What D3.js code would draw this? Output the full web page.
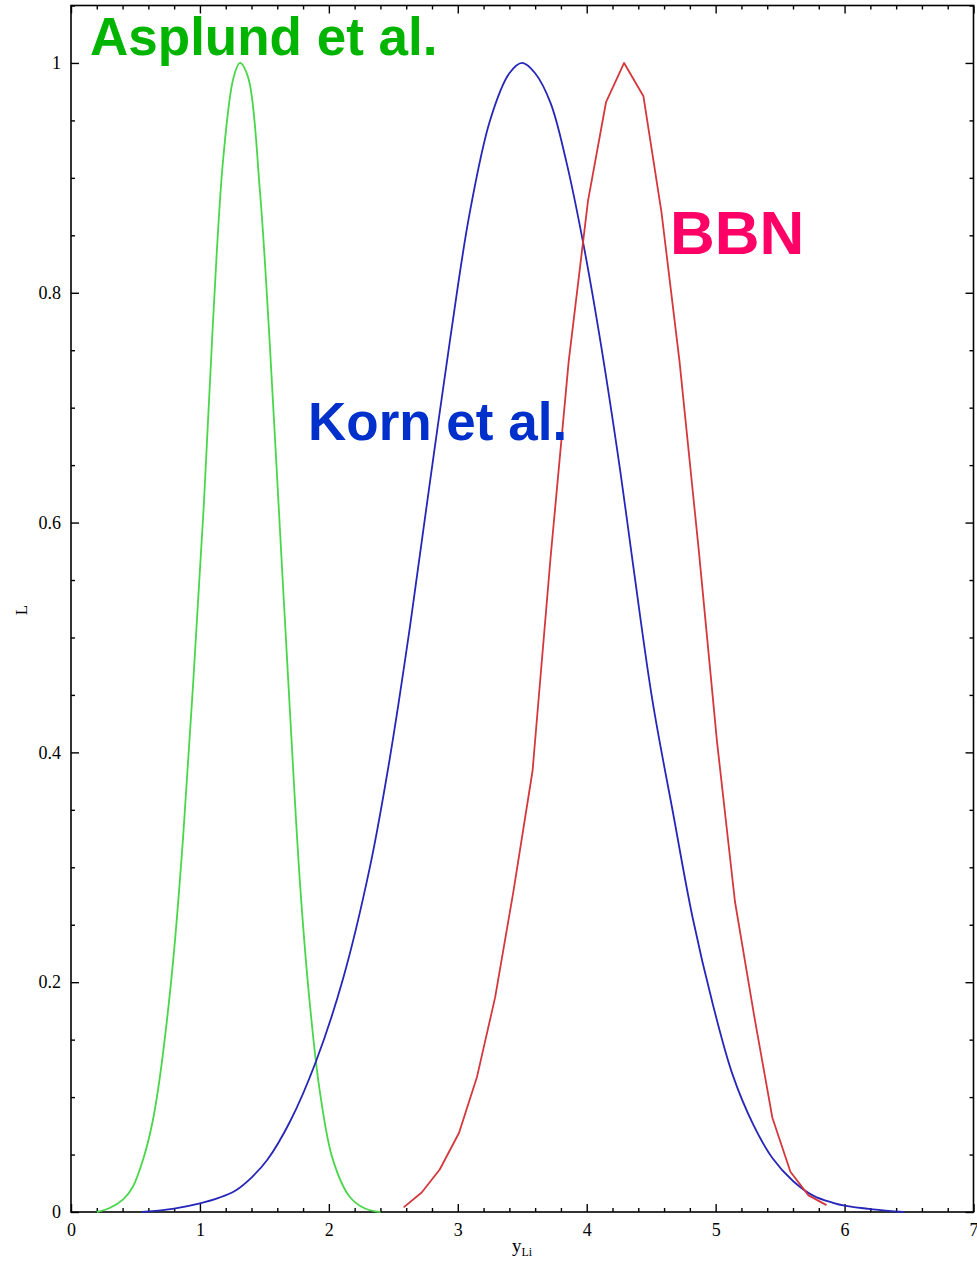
<!DOCTYPE html>
<html>
<head>
<meta charset="utf-8">
<script src="https://cdn.jsdelivr.net/npm/d3@7"></script>
<style>
  html, body { margin: 0; padding: 0; background: #fff; }
  svg { display: block; }
</style>
</head>
<body>
<svg id="chart" width="977" height="1264"></svg>
<script>
// Likelihood curves for the lithium abundance parameter y_Li

const asplundX = [0.20, 0.30, 0.405, 0.48, 0.56, 0.63, 0.69, 0.79, 0.87, 0.95, 1.03, 1.10, 1.18, 1.26, 1.31,
                  1.375, 1.465, 1.54, 1.62, 1.70, 1.775, 1.85, 1.93, 2.03, 2.16, 2.28, 2.40];
const asplundL = [0.0, 0.0035, 0.011, 0.022, 0.046, 0.077, 0.118, 0.216, 0.327, 0.465, 0.615, 0.772, 0.916, 0.987, 1.0,
                  0.987, 0.889, 0.759, 0.595, 0.432, 0.288, 0.184, 0.105, 0.046, 0.0135, 0.003, 0.0];

const kornX = [0.55, 0.80, 1.00, 1.15, 1.28, 1.40, 1.52, 1.70, 1.90, 2.11, 2.32, 2.47, 2.63, 2.78, 2.94, 3.09,
               3.25, 3.40, 3.50, 3.60, 3.72, 3.84, 3.97, 4.10, 4.26, 4.36, 4.51, 4.67, 4.82, 4.98, 5.13,
               5.29, 5.44, 5.60, 5.76, 5.91, 6.00, 6.22, 6.46];
const kornL = [0.0, 0.003, 0.0075, 0.0125, 0.019, 0.030, 0.045, 0.079, 0.131, 0.203, 0.301, 0.393, 0.510, 0.632,
               0.759, 0.868, 0.950, 0.991, 1.0, 0.991, 0.965, 0.915, 0.845, 0.762, 0.645, 0.563, 0.445, 0.347,
               0.257, 0.180, 0.120, 0.0765, 0.047, 0.027, 0.014, 0.008, 0.0055, 0.0023, 0.0];

const bbnX = [2.58, 2.72, 2.86, 3.01, 3.15, 3.29, 3.43, 3.58, 3.72, 3.86, 4.01, 4.15, 4.29, 4.44,
              4.58, 4.72, 4.87, 5.01, 5.15, 5.30, 5.44, 5.58, 5.72, 5.86];
const bbnL = [0.004, 0.017, 0.037, 0.069, 0.118, 0.187, 0.278, 0.384, 0.57, 0.74, 0.88, 0.966, 1.0, 0.971,
              0.87, 0.74, 0.575, 0.41, 0.27, 0.17, 0.082, 0.035, 0.0145, 0.006];

const xTickValues = [0, 1, 2, 3, 4, 5, 6, 7];
const yTickValues = [0, 0.2, 0.4, 0.6, 0.8, 1];
const yTickLabels = ["0", "0.2", "0.4", "0.6", "0.8", "1"];

const svg = d3.select("#chart");
const plotLeft = 71, plotRight = 973.5, plotTop = 5.5, plotBottom = 1212;

const x = d3.scaleLinear().domain([0, 7]).range([plotLeft, plotRight]);
const y = d3.scaleLinear().domain([0, 1.05]).range([plotBottom, plotTop]);

const tickFont = "'Liberation Serif', 'Times New Roman', serif";

// minor tick positions
const xMinor = d3.range(0, 7.0001, 0.2).filter(v => Math.abs(v - Math.round(v)) > 1e-6);
const yMinor = d3.range(0, 1.0501, 0.05).filter(v => Math.abs(v * 5 - Math.round(v * 5)) > 1e-6);

function styleAxis(g) {
  g.select(".domain").remove();
  g.selectAll(".tick line").attr("stroke", "#000").attr("stroke-width", 1.4);
  g.selectAll(".tick text")
    .attr("fill", "#000")
    .style("font-family", tickFont)
    .style("font-size", "18px");
}

// bottom
svg.append("g").attr("transform", `translate(0,${plotBottom})`)
  .call(d3.axisBottom(x).tickValues(xTickValues).tickFormat(d3.format("d"))
        .tickSizeInner(-8).tickSizeOuter(0).tickPadding(11))
  .call(styleAxis);
svg.append("g").attr("transform", `translate(0,${plotBottom})`)
  .call(d3.axisBottom(x).tickValues(xMinor).tickFormat("").tickSizeInner(-4).tickSizeOuter(0))
  .call(styleAxis);
// top
svg.append("g").attr("transform", `translate(0,${plotTop})`)
  .call(d3.axisTop(x).tickValues(xTickValues).tickFormat("").tickSizeInner(-8).tickSizeOuter(0))
  .call(styleAxis);
svg.append("g").attr("transform", `translate(0,${plotTop})`)
  .call(d3.axisTop(x).tickValues(xMinor).tickFormat("").tickSizeInner(-4).tickSizeOuter(0))
  .call(styleAxis);
// left
svg.append("g").attr("transform", `translate(${plotLeft},0)`)
  .call(d3.axisLeft(y).tickValues(yTickValues).tickFormat((d, i) => yTickLabels[i])
        .tickSizeInner(-8).tickSizeOuter(0).tickPadding(10))
  .call(styleAxis);
svg.append("g").attr("transform", `translate(${plotLeft},0)`)
  .call(d3.axisLeft(y).tickValues(yMinor).tickFormat("").tickSizeInner(-4).tickSizeOuter(0))
  .call(styleAxis);
// right
svg.append("g").attr("transform", `translate(${plotRight},0)`)
  .call(d3.axisRight(y).tickValues(yTickValues).tickFormat("").tickSizeInner(-8).tickSizeOuter(0))
  .call(styleAxis);
svg.append("g").attr("transform", `translate(${plotRight},0)`)
  .call(d3.axisRight(y).tickValues(yMinor).tickFormat("").tickSizeInner(-4).tickSizeOuter(0))
  .call(styleAxis);

// frame
svg.append("rect")
  .attr("x", plotLeft).attr("y", plotTop)
  .attr("width", plotRight - plotLeft).attr("height", plotBottom - plotTop)
  .attr("fill", "none").attr("stroke", "#000").attr("stroke-width", 1.6);

// curves
const smooth = d3.line().x(d => x(d[0])).y(d => y(Math.max(0, d[1])))
  .curve(d3.curveCatmullRom.alpha(0.5));
const straight = d3.line().x(d => x(d[0])).y(d => y(d[1]));

const series = [
  { xs: asplundX, ls: asplundL, color: "#4ad64a", gen: smooth },
  { xs: kornX, ls: kornL, color: "#2626b8", gen: smooth },
  { xs: bbnX, ls: bbnL, color: "#d4383c", gen: straight }
];
series.forEach(s => {
  svg.append("path")
    .datum(d3.zip(s.xs, s.ls))
    .attr("d", s.gen)
    .attr("fill", "none")
    .attr("stroke", s.color)
    .attr("stroke-width", 1.8)
    .attr("stroke-linejoin", "round");
});

// axis titles
svg.append("text")
  .attr("transform", "translate(21,610) rotate(-90)")
  .attr("text-anchor", "middle")
  .attr("dy", "0.35em")
  .style("font-family", tickFont)
  .style("font-size", "17px")
  .text("L");

const xt = svg.append("text")
  .attr("x", 512).attr("y", 1252)
  .style("font-family", tickFont)
  .style("font-size", "19px");
xt.append("tspan").text("y");
xt.append("tspan").attr("dy", 4).style("font-size", "12px").text("Li");

// curve labels
const labelFont = "'Liberation Sans', Arial, sans-serif";
[
  { text: "Asplund et al.", x: 90, y: 55, size: 53, color: "#00b400" },
  { text: "Korn et al.", x: 308, y: 440, size: 53, color: "#0030cc" },
  { text: "BBN", x: 670, y: 254, size: 62, color: "#ff0066" }
].forEach(l => {
  svg.append("text")
    .attr("x", l.x).attr("y", l.y)
    .attr("fill", l.color)
    .style("font-family", labelFont)
    .style("font-weight", "bold")
    .style("font-size", l.size + "px")
    .text(l.text);
});
</script>
</body>
</html>
